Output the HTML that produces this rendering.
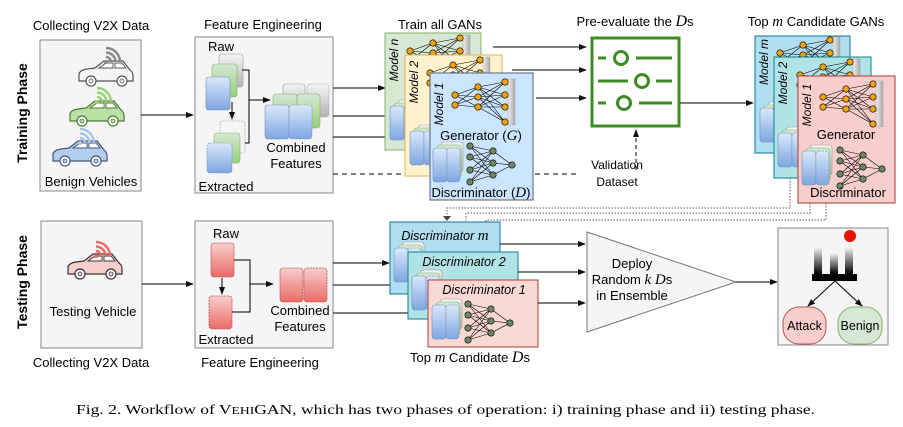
<!DOCTYPE html>
<html><head><meta charset="utf-8"><style>
html,body{margin:0;padding:0;background:#fff;}
svg{display:block;font-family:"Liberation Sans",sans-serif;}
</style></head><body>
<svg width="903" height="427" viewBox="0 0 903 427" xmlns="http://www.w3.org/2000/svg">
<defs>
<marker id="ar" markerWidth="8" markerHeight="8" refX="7" refY="4" orient="auto" markerUnits="userSpaceOnUse"><path d="M0,1 L8,4 L0,7 Z" fill="#111"/></marker>
<linearGradient id="gb" x1="0" y1="0" x2="0" y2="1"><stop offset="0" stop-color="#dbe8fb"/><stop offset="1" stop-color="#7ea6e0"/></linearGradient>
<linearGradient id="gg" x1="0" y1="0" x2="0" y2="1"><stop offset="0" stop-color="#d5e8d4"/><stop offset="1" stop-color="#97d077"/></linearGradient>
<linearGradient id="gy" x1="0" y1="0" x2="0" y2="1"><stop offset="0" stop-color="#f5f5f5"/><stop offset="1" stop-color="#b3b3b3"/></linearGradient>
<linearGradient id="gr" x1="0" y1="0" x2="0" y2="1"><stop offset="0" stop-color="#f8cecc"/><stop offset="1" stop-color="#ea6b66"/></linearGradient>
<linearGradient id="gk" x1="0" y1="0" x2="0" y2="1"><stop offset="0" stop-color="#fff"/><stop offset="1" stop-color="#000"/></linearGradient>
<linearGradient id="gbar" x1="0" y1="0" x2="1" y2="0"><stop offset="0" stop-color="#eee"/><stop offset="1" stop-color="#aaa"/></linearGradient>
<g id="gen" stroke="#000" stroke-width="0.6">
<rect x="53" y="-3" width="7" height="46" fill="url(#gbar)" stroke="#999" stroke-dasharray="2,1"/>
<path d="M0,13 L23,5 M0,13 L23,15 M0,13 L23,25 M0,23 L23,5 M0,23 L23,15 M0,23 L23,25 M23,5 L50,0 M23,5 L50,13 M23,5 L50,25 M23,5 L50,40 M23,15 L50,0 M23,15 L50,13 M23,15 L50,25 M23,15 L50,40 M23,25 L50,0 M23,25 L50,13 M23,25 L50,25 M23,25 L50,40" fill="none"/>
<g fill="#f0a30a"><circle cx="0" cy="13" r="3.2"/><circle cx="0" cy="23" r="3.2"/><circle cx="23" cy="5" r="3.2"/><circle cx="23" cy="15" r="3.2"/><circle cx="23" cy="25" r="3.2"/><circle cx="50" cy="0" r="3.2"/><circle cx="50" cy="13" r="3.2"/><circle cx="50" cy="25" r="3.2"/><circle cx="50" cy="40" r="3.2"/></g>
</g>
<g id="dis" stroke="#000" stroke-width="0.6">
<path d="M0,0 L23,5 M0,0 L23,17 M0,0 L23,29 M0,11 L23,5 M0,11 L23,17 M0,11 L23,29 M0,24 L23,5 M0,24 L23,17 M0,24 L23,29 M0,36 L23,5 M0,36 L23,17 M0,36 L23,29 M23,5 L42,19 M23,17 L42,19 M23,29 L42,19" fill="none"/>
<g fill="#6d8764"><circle cx="0" cy="0" r="3.2"/><circle cx="0" cy="11" r="3.2"/><circle cx="0" cy="24" r="3.2"/><circle cx="0" cy="36" r="3.2"/><circle cx="23" cy="5" r="3.2"/><circle cx="23" cy="17" r="3.2"/><circle cx="23" cy="29" r="3.2"/><circle cx="42" cy="19" r="3.2"/></g>
</g>
<g id="stk">
<rect x="8" y="0" width="22" height="30" rx="3" fill="url(#gy)" stroke="#999" stroke-width="0.6"/>
<rect x="4" y="3" width="24" height="33" rx="3" fill="url(#gg)" stroke="#82b366" stroke-width="0.6"/>
<rect x="0" y="6" width="14" height="34" rx="3" fill="url(#gb)" stroke="#6c8ebf" stroke-width="0.6"/>
<rect x="14" y="6" width="13" height="34" rx="3" fill="url(#gb)" stroke="#6c8ebf" stroke-width="0.6" stroke-dasharray="2,1"/>
</g>
<g id="car">
<path d="M2,24 L2,17 Q3,13 10,12 L18,11 L27,4 L46,4 L53,13 Q56,15 56,19 L56,24 Z" stroke-width="1.2"/>
<path d="M22,11 L29,6 L36,6 L36,11 Z M38,6 L45,6 L49,11 L38,11 Z" fill="#fff" stroke-width="0.9"/>
<circle cx="14" cy="24" r="5" fill="#fff" stroke-width="1.2"/><circle cx="14" cy="24" r="2" stroke-width="0.8"/>
<circle cx="45" cy="24" r="5" fill="#fff" stroke-width="1.2"/><circle cx="45" cy="24" r="2" stroke-width="0.8"/>
</g>
<g id="wifi" fill="none" stroke-width="2.4">
<path d="M0,-5 A5,5 0 0 1 5,0"/><path d="M0,-9.5 A9.5,9.5 0 0 1 9.5,0"/><path d="M0,-14 A14,14 0 0 1 14,0"/>
</g>
</defs>

<!-- phase labels -->
<text transform="translate(27,113) rotate(-90)" font-size="14" font-weight="bold" text-anchor="middle">Training Phase</text>
<text transform="translate(27,282) rotate(-90)" font-size="14" font-weight="bold" text-anchor="middle">Testing Phase</text>

<!-- ===== TRAINING ===== -->
<text x="91" y="30" font-size="13" text-anchor="middle">Collecting V2X Data</text>
<rect x="40" y="40" width="101" height="151" fill="#f5f5f5" stroke="#888" stroke-width="1"/>
<use href="#car" x="77" y="57" fill="#f5f5f5" stroke="#555"/>
<g transform="translate(106,62)" stroke="#888"><use href="#wifi"/><circle r="2" fill="#888" stroke="none"/></g>
<use href="#car" x="68" y="97" fill="#b9e0a5" stroke="#4d7a34"/>
<g transform="translate(97,102)" stroke="#97d077"><use href="#wifi"/><circle r="2" fill="#97d077" stroke="none"/></g>
<use href="#car" x="51" y="137" fill="#b4ccf0" stroke="#40577a"/>
<g transform="translate(80,143)" stroke="#a9c4eb"><use href="#wifi"/><circle r="2" fill="#a9c4eb" stroke="none"/></g>
<text x="91" y="186" font-size="13" text-anchor="middle">Benign Vehicles</text>
<line x1="141" y1="115" x2="193" y2="115" stroke="#000" marker-end="url(#ar)"/>

<text x="263" y="29" font-size="13" text-anchor="middle">Feature Engineering</text>
<rect x="195" y="37" width="138" height="156" fill="#f5f5f5" stroke="#888"/>
<text x="221" y="51" font-size="13" text-anchor="middle">Raw</text>
<rect x="219" y="54" width="24" height="33" rx="3" fill="url(#gy)" stroke="#999" stroke-width="0.6"/>
<rect x="212" y="64" width="25" height="33" rx="3" fill="url(#gg)" stroke="#82b366" stroke-width="0.6"/>
<rect x="206" y="77" width="24" height="33" rx="3" fill="url(#gb)" stroke="#6c8ebf" stroke-width="0.6"/>
<line x1="232" y1="102" x2="232" y2="119" stroke="#000" marker-end="url(#ar)"/>
<rect x="220" y="121" width="25" height="32" rx="3" fill="#f5f5f5" stroke="#999" stroke-width="0.6" stroke-dasharray="2,1"/>
<rect x="214" y="133" width="26" height="30" rx="3" fill="url(#gg)" stroke="#82b366" stroke-width="0.6"/>
<rect x="207" y="143" width="25" height="30" rx="3" fill="url(#gb)" stroke="#6c8ebf" stroke-width="0.6" stroke-dasharray="2,1"/>
<text x="226" y="191" font-size="13" text-anchor="middle">Extracted</text>
<path d="M242,70 H249 V143 H245" fill="none" stroke="#000"/>
<line x1="249" y1="100" x2="270" y2="100" stroke="#000" marker-end="url(#ar)"/>
<rect x="283" y="84" width="22" height="27" rx="3" fill="url(#gy)" stroke="#999" stroke-width="0.6"/>
<rect x="307" y="84" width="22" height="33" rx="3" fill="url(#gy)" stroke="#999" stroke-width="0.6" stroke-dasharray="2,1"/>
<rect x="273" y="94" width="24" height="34" rx="3" fill="url(#gg)" stroke="#82b366" stroke-width="0.6"/>
<rect x="297" y="94" width="23" height="34" rx="3" fill="url(#gg)" stroke="#82b366" stroke-width="0.6"/>
<rect x="265" y="105" width="24" height="34" rx="3" fill="url(#gb)" stroke="#6c8ebf" stroke-width="0.6"/>
<rect x="289" y="105" width="23" height="34" rx="3" fill="url(#gb)" stroke="#6c8ebf" stroke-width="0.6" stroke-dasharray="2,1"/>
<text x="296" y="152" font-size="13" text-anchor="middle">Combined</text>
<text x="296" y="168" font-size="13" text-anchor="middle">Features</text>

<line x1="333" y1="88" x2="385" y2="88" stroke="#000" marker-end="url(#ar)"/>
<line x1="333" y1="116" x2="405" y2="116" stroke="#000" marker-end="url(#ar)"/>
<line x1="333" y1="137" x2="430" y2="137" stroke="#000" marker-end="url(#ar)"/>
<line x1="333" y1="174" x2="405" y2="174" stroke="#000" stroke-dasharray="5,4"/>
<line x1="535" y1="174" x2="578" y2="174" stroke="#000" stroke-dasharray="5,4"/>

<!-- Train all GANs -->
<text x="440" y="29" font-size="13" text-anchor="middle">Train all GANs</text>
<rect x="385" y="33" width="96" height="117" fill="#d5e8d4" stroke="#82b366"/>
<text transform="translate(398,60) rotate(-90)" font-size="12" font-style="italic" text-anchor="middle">Model n</text>
<use href="#gen" x="410" y="38"/>
<use href="#stk" x="390" y="100"/>
<rect x="405" y="55" width="97" height="121" fill="#fff2cc" stroke="#d6b656"/>
<text transform="translate(418,82) rotate(-90)" font-size="12" font-style="italic" text-anchor="middle">Model 2</text>
<use href="#gen" x="430" y="60"/>
<use href="#stk" x="410" y="125"/>
<rect x="430" y="73" width="103" height="127" fill="#cce5ff" stroke="#6b7a8a" stroke-width="1.2"/>
<text transform="translate(443,104) rotate(-90)" font-size="12" font-style="italic" text-anchor="middle">Model 1</text>
<use href="#gen" x="455" y="82"/>
<text x="481" y="140" font-size="13" text-anchor="middle">Generator (<tspan font-family="Liberation Serif" font-style="italic" font-size="15">G</tspan>)</text>
<use href="#stk" x="433" y="142"/>
<use href="#dis" x="470" y="146"/>
<text x="481" y="197" font-size="13" text-anchor="middle">Discriminator (<tspan font-family="Liberation Serif" font-style="italic" font-size="15">D</tspan>)</text>

<line x1="493" y1="47" x2="586" y2="47" stroke="#000" marker-end="url(#ar)"/>
<line x1="512" y1="70" x2="586" y2="70" stroke="#000" marker-end="url(#ar)"/>
<line x1="536" y1="98" x2="586" y2="98" stroke="#000" marker-end="url(#ar)"/>

<!-- Pre-evaluate -->
<text x="635" y="26" font-size="13" text-anchor="middle">Pre-evaluate the <tspan font-family="Liberation Serif" font-style="italic" font-size="16">D</tspan>s</text>
<rect x="592" y="38" width="87" height="88" fill="#fff" stroke="#3d8b25" stroke-width="3"/>
<g stroke="#3d8b25" stroke-width="3" fill="none">
<path d="M598,58 H606 M636,58 H672 M598,81 H628 M656,81 H672 M598,103 H606 M639,103 H672"/>
<circle cx="621" cy="58" r="6.5"/><circle cx="642" cy="81" r="6.5"/><circle cx="624" cy="103" r="6.5"/>
</g>
<text x="617" y="169" font-size="12" text-anchor="middle">Validation</text>
<text x="617" y="186" font-size="12" text-anchor="middle">Dataset</text>
<line x1="636" y1="170" x2="636" y2="130" stroke="#000" stroke-dasharray="4,3" marker-end="url(#ar)"/>
<line x1="680" y1="103" x2="753" y2="103" stroke="#000" marker-end="url(#ar)"/>

<!-- Top m candidate GANs -->
<text x="816" y="26" font-size="13" text-anchor="middle">Top <tspan font-family="Liberation Serif" font-style="italic" font-size="15">m</tspan> Candidate GANs</text>
<rect x="755" y="36" width="95" height="117" fill="#b1ddf0" stroke="#10739e"/>
<text transform="translate(768,62) rotate(-90)" font-size="12" font-style="italic" text-anchor="middle">Model m</text>
<use href="#gen" x="780" y="40"/>
<use href="#stk" x="760" y="102"/>
<rect x="774" y="57" width="97" height="121" fill="#b0e3e6" stroke="#0e8088"/>
<text transform="translate(787,83) rotate(-90)" font-size="12" font-style="italic" text-anchor="middle">Model 2</text>
<use href="#gen" x="800" y="62"/>
<use href="#stk" x="778" y="127"/>
<rect x="798" y="76" width="97" height="127" fill="#f8cecc" stroke="#b85450" stroke-width="1.2"/>
<text transform="translate(811,105) rotate(-90)" font-size="12" font-style="italic" text-anchor="middle">Model 1</text>
<use href="#gen" x="823" y="84"/>
<text x="846" y="139" font-size="13" text-anchor="middle">Generator</text>
<use href="#stk" x="802" y="145"/>
<use href="#dis" x="840" y="150"/>
<text x="848" y="197" font-size="13" text-anchor="middle">Discriminator</text>

<!-- dotted connectors -->
<g fill="none" stroke="#777" stroke-width="1.2" stroke-dasharray="1.5,1.5">
<path d="M790,178 V208 H447 V216"/>
<path d="M810,203 V213 H466 V240"/>
<path d="M826,203 V220 H486 V268"/>
</g>
<g fill="#444"><path d="M443,216 L451,216 L447,221 Z"/><path d="M462,240 L470,240 L466,245 Z"/><path d="M482,268 L490,268 L486,273 Z"/></g>

<!-- ===== TESTING ===== -->
<rect x="41" y="221" width="101" height="127" fill="#f5f5f5" stroke="#888"/>
<use href="#car" x="66" y="250" fill="#f8cecc" stroke="#333"/>
<g transform="translate(96,256)" stroke="#ea6b66"><use href="#wifi"/><circle r="2" fill="#ea6b66" stroke="none"/></g>
<text x="93" y="316" font-size="13" text-anchor="middle">Testing Vehicle</text>
<text x="91" y="367" font-size="13" text-anchor="middle">Collecting V2X Data</text>
<line x1="142" y1="284" x2="193" y2="284" stroke="#000" marker-end="url(#ar)"/>

<rect x="195" y="221" width="138" height="127" fill="#f5f5f5" stroke="#888"/>
<text x="226" y="238" font-size="13" text-anchor="middle">Raw</text>
<rect x="211" y="243" width="23" height="34" rx="3" fill="url(#gr)" stroke="#b85450" stroke-width="0.6"/>
<line x1="222" y1="278" x2="222" y2="294" stroke="#000" marker-end="url(#ar)"/>
<rect x="209" y="296" width="23" height="33" rx="3" fill="url(#gr)" stroke="#b85450" stroke-width="0.8" stroke-dasharray="2,1"/>
<text x="226" y="344" font-size="13" text-anchor="middle">Extracted</text>
<path d="M234,260 H250 V312 H232" fill="none" stroke="#000"/>
<line x1="250" y1="284" x2="273" y2="284" stroke="#000" marker-end="url(#ar)"/>
<rect x="280" y="268" width="23" height="34" rx="3" fill="url(#gr)" stroke="#b85450" stroke-width="0.6"/>
<rect x="304" y="268" width="23" height="34" rx="3" fill="url(#gr)" stroke="#b85450" stroke-width="0.8" stroke-dasharray="2,1"/>
<text x="300" y="315" font-size="13" text-anchor="middle">Combined</text>
<text x="300" y="331" font-size="13" text-anchor="middle">Features</text>
<text x="260" y="367" font-size="13" text-anchor="middle">Feature Engineering</text>

<line x1="333" y1="263" x2="389" y2="263" stroke="#000" marker-end="url(#ar)"/>
<line x1="333" y1="285" x2="408" y2="285" stroke="#000" marker-end="url(#ar)"/>
<line x1="333" y1="313" x2="428" y2="313" stroke="#000" marker-end="url(#ar)"/>

<rect x="390" y="222" width="110" height="72" fill="#b1ddf0" stroke="#10739e"/>
<text x="445" y="240" font-size="12.5" font-style="italic" text-anchor="middle">Discriminator <tspan font-family="Liberation Serif" font-size="15">m</tspan></text>
<use href="#stk" x="394" y="242"/>
<rect x="408" y="252" width="110" height="67" fill="#b0e3e6" stroke="#0e8088"/>
<text x="464" y="266" font-size="12.5" font-style="italic" text-anchor="middle">Discriminator 2</text>
<use href="#stk" x="412" y="270"/>
<rect x="428" y="280" width="110" height="67" fill="#fad9d5" stroke="#ae4132"/>
<text x="484" y="294" font-size="12.5" font-style="italic" text-anchor="middle">Discriminator 1</text>
<use href="#stk" x="432" y="299"/>
<use href="#dis" x="468" y="304"/>
<text x="470" y="362" font-size="13" text-anchor="middle">Top <tspan font-family="Liberation Serif" font-style="italic" font-size="15">m</tspan> Candidate <tspan font-family="Liberation Serif" font-style="italic" font-size="16">D</tspan>s</text>

<line x1="500" y1="244" x2="585" y2="244" stroke="#000" marker-end="url(#ar)"/>
<line x1="518" y1="272" x2="585" y2="272" stroke="#000" marker-end="url(#ar)"/>
<line x1="538" y1="303" x2="585" y2="303" stroke="#000" marker-end="url(#ar)"/>

<path d="M587,232 L587,332 L736,282 Z" fill="#f5f5f5" stroke="#777"/>
<text x="632" y="268" font-size="13" text-anchor="middle">Deploy</text>
<text x="632" y="284" font-size="13" text-anchor="middle">Random <tspan font-family="Liberation Serif" font-style="italic" font-size="15">k D</tspan>s</text>
<text x="632" y="300" font-size="13" text-anchor="middle">in Ensemble</text>
<line x1="736" y1="282" x2="777" y2="282" stroke="#000" marker-end="url(#ar)"/>

<rect x="778" y="228" width="110" height="117" fill="#f5f5f5" stroke="#888"/>
<rect x="814" y="246" width="8" height="28" fill="url(#gk)"/>
<rect x="830" y="252" width="8" height="22" fill="url(#gk)"/>
<rect x="845" y="246" width="8" height="28" fill="url(#gk)"/>
<circle cx="850" cy="236" r="6" fill="#e51400"/>
<rect x="812" y="274" width="45" height="7" fill="#000"/>
<line x1="835" y1="281" x2="808" y2="306" stroke="#000" marker-end="url(#ar)"/>
<line x1="835" y1="281" x2="862" y2="306" stroke="#000" marker-end="url(#ar)"/>
<rect x="783" y="307" width="43" height="37" rx="16" fill="#f8cecc" stroke="#b85450"/>
<text x="804.5" y="330" font-size="12.5" text-anchor="middle">Attack</text>
<rect x="838" y="307" width="44" height="37" rx="16" fill="#d5e8d4" stroke="#82b366"/>
<text x="860" y="330" font-size="12.5" text-anchor="middle">Benign</text>

<!-- caption -->
<text x="76" y="414" font-family="Liberation Serif" font-size="13.5" textLength="739" lengthAdjust="spacingAndGlyphs">Fig. 2.  Workflow of V<tspan font-size="10.5">EHI</tspan>GAN, which has two phases of operation: i) training phase and ii) testing phase.</text>
</svg>
</body></html>
